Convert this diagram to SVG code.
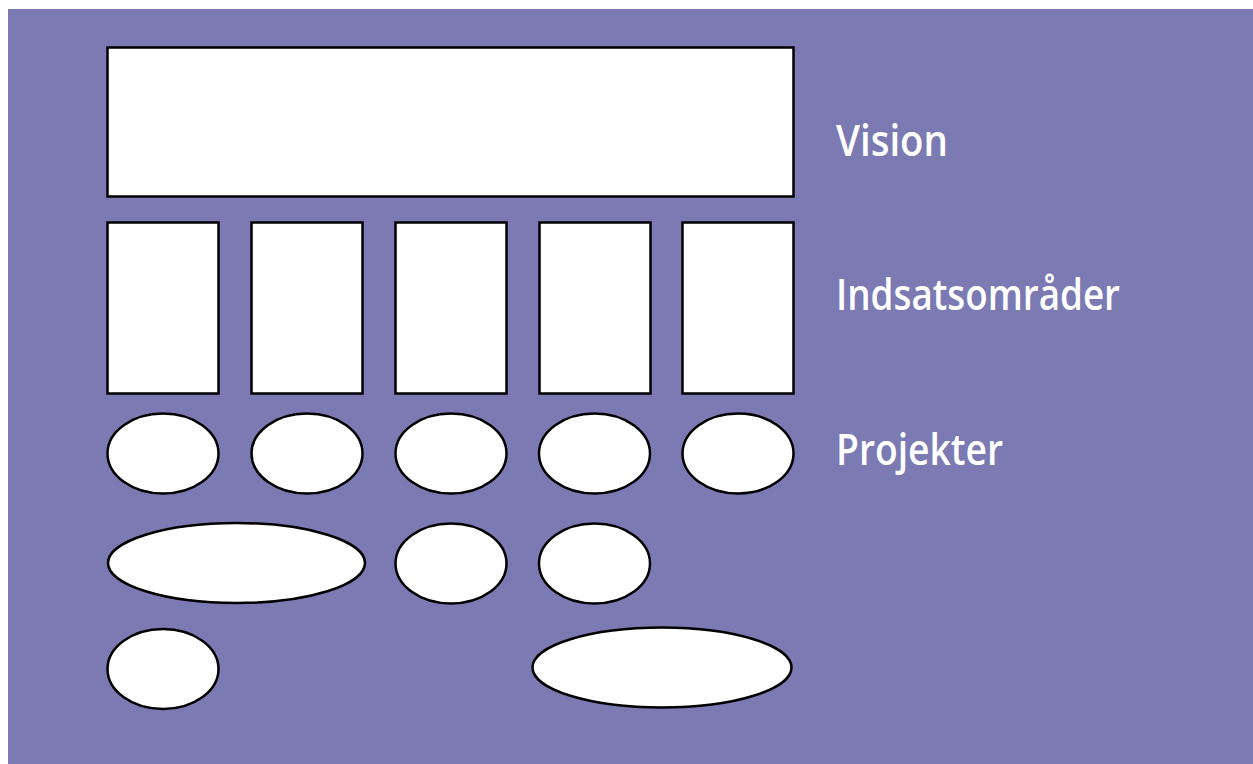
<svg xmlns="http://www.w3.org/2000/svg" width="1253" height="764" viewBox="0 0 1253 764">
  <style>
    .box { fill: #ffffff; stroke: #000000; stroke-width: 2.5; }
    .lbl { fill: #ffffff; font-family: "Open Sans", "DejaVu Sans", sans-serif; font-size: 44px; font-weight: 600; }
  </style>
  <rect x="0" y="0" width="1253" height="764" fill="#ffffff"/>
  <rect x="8" y="9" width="1245" height="755" fill="#7b7ab3"/>
  <g id="vision"><rect class="box" x="107.5" y="47.5" width="686" height="149"/></g>
  <g id="omr1"><rect class="box" x="107.5" y="222.5" width="111" height="171"/></g>
  <g id="omr2"><rect class="box" x="251.5" y="222.5" width="111" height="171"/></g>
  <g id="omr3"><rect class="box" x="395.5" y="222.5" width="111" height="171"/></g>
  <g id="omr4"><rect class="box" x="539.5" y="222.5" width="111" height="171"/></g>
  <g id="omr5"><rect class="box" x="682.5" y="222.5" width="111" height="171"/></g>
  <g id="p1"><ellipse class="box" cx="163" cy="453.5" rx="55.5" ry="40"/></g>
  <g id="p2"><ellipse class="box" cx="307" cy="453.5" rx="55.5" ry="40"/></g>
  <g id="p3"><ellipse class="box" cx="451" cy="453.5" rx="55.5" ry="40"/></g>
  <g id="p4"><ellipse class="box" cx="594.5" cy="453.5" rx="55.5" ry="40"/></g>
  <g id="p5"><ellipse class="box" cx="738" cy="453.5" rx="55.5" ry="40"/></g>
  <g id="p6"><ellipse class="box" cx="236.5" cy="563" rx="128.5" ry="40"/></g>
  <g id="p7"><ellipse class="box" cx="451" cy="563.5" rx="55.5" ry="40"/></g>
  <g id="p8"><ellipse class="box" cx="594.5" cy="563.5" rx="55.5" ry="40"/></g>
  <g id="p9"><ellipse class="box" cx="163" cy="669" rx="55.5" ry="40"/></g>
  <g id="p10"><ellipse class="box" cx="662" cy="667.5" rx="129.5" ry="40"/></g>
  <g id="connectors"></g>
  <g id="labels">
    <text class="lbl" x="836" y="156" textLength="112" lengthAdjust="spacingAndGlyphs">Vision</text>
    <text class="lbl" x="836" y="310" textLength="284" lengthAdjust="spacingAndGlyphs">Indsatsområder</text>
    <text class="lbl" x="836" y="465" textLength="167" lengthAdjust="spacingAndGlyphs">Projekter</text>
  </g>
</svg>
